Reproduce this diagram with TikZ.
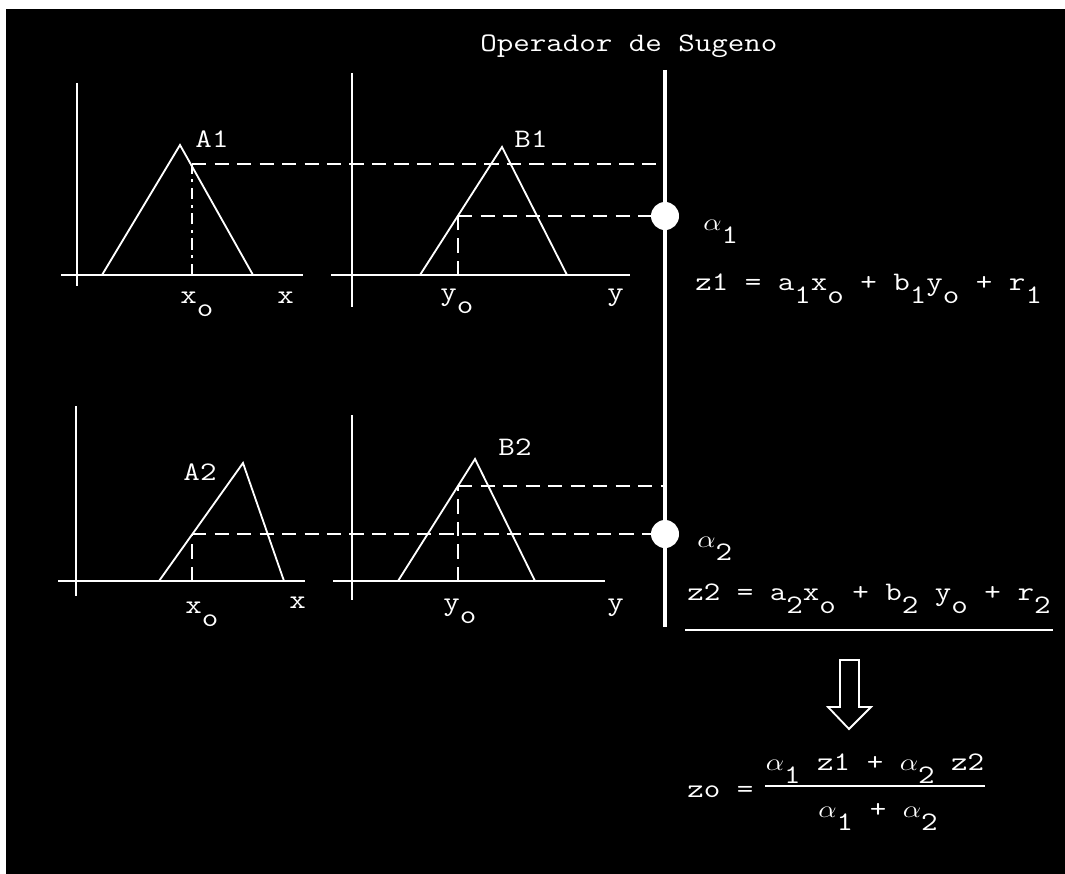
\documentclass[tikz,border=0pt]{standalone}
\usepackage{fontspec}
\usepackage{graphicx}
\usetikzlibrary{positioning}
\newcommand{\tw}[1]{\scalebox{1.2}[1]{#1}}
\newcommand{\lowr}[1]{\raisebox{-0.5em}{#1}}
\tikzset{
  ax/.style={draw=white, line width=1.4pt},
  mf/.style={draw=white, line width=1.3pt, line join=miter},
  dsh/.style={draw=white, line width=1.3pt, dash pattern=on 10pt off 6pt},
  dshdot/.style={draw=white, line width=1.3pt, dash pattern=on 8pt off 4pt on 2pt off 4pt},
  bar/.style={draw=white, line width=3.2pt},
  lab/.style={text=white, inner sep=0pt, font=\ttfamily\fontsize{19}{21}\selectfont},
  dot/.style={circle, fill=white, inner sep=0pt, minimum size=0.7cm},
}
\begin{document}
\begin{tikzpicture}[x=0.025cm, y=-0.025cm]
  \fill[white] (0,0) rectangle (1065,874);
  \fill[black] (6,9) rectangle (1065,874);
  \useasboundingbox (0,0) rectangle (1065,874);

  \node[lab, anchor=base west] (title) at (480,52) {\tw{Operador de Sugeno}};

  % rule 1
  \draw[ax] (77,83) -- (77,286);
  \draw[ax] (61,275) -- (303,275);
  \draw[mf] (102,275) -- (180,145) -- (253,275);
  \node[lab] (a1) at (212,139) {\tw{A1}};
  \coordinate (x1p) at (192,164);
  \draw[dshdot] (192,275) -- (x1p);
  \node[lab, anchor=base west] (x1o) at (180,303) {\tw{x\lowr{o}}};
  \node[lab, anchor=base west] (x1) at (277,303) {\tw{x}};

  \draw[ax] (352,73) -- (352,307);
  \draw[ax] (331,275) -- (630,275);
  \draw[mf] (420,275) -- (502,147) -- (567,275);
  \node[lab] (b1) at (531,139) {\tw{B1}};
  \coordinate (y1p) at (458,216);
  \draw[dsh] (458,275) -- (y1p);
  \node[lab, anchor=base west] (y1o) at (440,300) {\tw{y\lowr{o}}};
  \node[lab, anchor=base west] (y1) at (607,300) {\tw{y}};

  % rule 2
  \draw[ax] (76,406) -- (76,596);
  \draw[ax] (58,581) -- (305,581);
  \draw[mf] (159,581) -- (243,463) -- (284,581);
  \node[lab] (a2) at (200,472) {\tw{A2}};
  \coordinate (x2p) at (192,534);
  \draw[dsh] (192,581) -- (x2p);
  \node[lab, anchor=base west] (x2o) at (185,613) {\tw{x\lowr{o}}};
  \node[lab, anchor=base west] (x2) at (289,608) {\tw{x}};

  \draw[ax] (352,415) -- (352,600);
  \draw[ax] (333,581) -- (605,581);
  \draw[mf] (398,581) -- (475,459) -- (535,581);
  \node[lab] (b2) at (515,447) {\tw{B2}};
  \coordinate (y2p) at (458,486);
  \draw[dsh] (458,581) -- (y2p);
  \node[lab, anchor=base west] (y2o) at (443,610) {\tw{y\lowr{o}}};
  \node[lab, anchor=base west] (y2) at (607,610) {\tw{y}};

  % Sugeno bar
  \coordinate (bt) at (665,70);
  \coordinate (bb) at (665,627);
  \coordinate (h1) at (665,164);
  \coordinate (h2) at (665,486);
  \draw[bar] (bt) -- (bb);
  \node[dot] (al1) at (665,216) {};
  \node[dot] (al2) at (665,534) {};
  \draw[dsh] (x1p) -- (h1);
  \draw[dsh] (y1p) -- (al1);
  \draw[dsh] (y2p) -- (h2);
  \draw[dsh] (x2p) -- (al2);

  \node[lab, anchor=base west] (alab1) at (703,230) {\tw{$\alpha$\lowr{1}}};
  \node[lab, anchor=base west] (alab2) at (697,547) {\tw{$\alpha$\lowr{2}}};
  \node[lab, anchor=base west] (z1) at (695,290) {\tw{z1 = a\lowr1x\lowr o + b\lowr1y\lowr o + r\lowr1}};
  \node[lab, anchor=base west] (z2) at (687,600) {\tw{z2 = a\lowr2x\lowr o + b\lowr2 y\lowr o + r\lowr2}};
  \draw[ax] (685,630) -- (1053,630);

  % hollow arrow
  \draw[mf] (840,660) -- (859,660) -- (859,707) -- (871,707) -- (849,729)
    -- (828,707) -- (840,707) -- cycle;

  % result
  \node[lab, anchor=base west] (zo) at (687,797) {\tw{zo =}};
  \node[lab, anchor=base] (num) at (875,770) {\tw{$\alpha$\lowr1 z1 + $\alpha$\lowr2 z2}};
  \node[lab, anchor=base] (den) at (878,817) {\tw{$\alpha$\lowr1 + $\alpha$\lowr2}};
  \draw[ax] (765,786) -- (985,786);
\end{tikzpicture}
\end{document}
